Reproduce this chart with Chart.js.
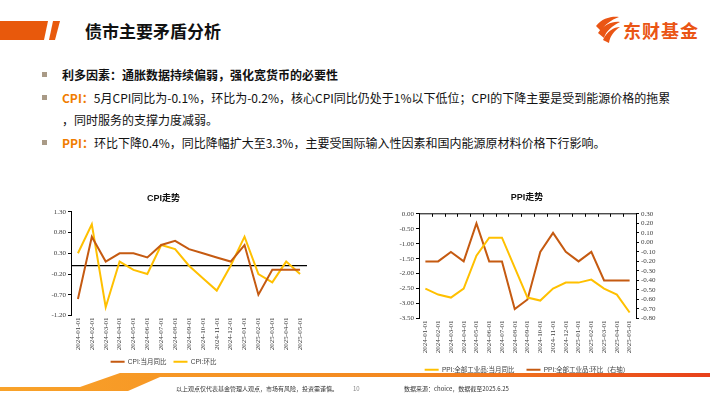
<!DOCTYPE html>
<html>
<head>
<meta charset="utf-8">
<script src="https://cdn.jsdelivr.net/npm/chart.js@4.4.1/dist/chart.umd.min.js"></script>
<style>
  body { margin: 0; width: 710px; height: 395px; position: relative; overflow: hidden; background: #fff;
         font-family: "Noto Sans CJK SC", "Liberation Sans", sans-serif; color: #111; }
  .abs { position: absolute; }
  .line { position: absolute; left: 62px; font-size: 12px; line-height: 16px; white-space: nowrap; }
  .sq { position: absolute; left: 42px; width: 5px; height: 5px; background: #a99a86; }
  .hl { color: #f07c00; font-weight: bold; }
  canvas { position: absolute; }
</style>
</head>
<body>
<svg class="abs" style="left:0;top:0" width="710" height="395">
  <defs>
    <linearGradient id="band" x1="0" x2="1" y1="0" y2="0">
      <stop offset="0" stop-color="#f9a32a"/>
      <stop offset="0.6" stop-color="#f3861f"/>
      <stop offset="1" stop-color="#e8401a"/>
    </linearGradient>
  </defs>
  <polygon points="0,21 48,21 44,40 0,40" fill="#e8590c"/>
  <polygon points="53,21 60,21 55,40 49,40" fill="#e8590c"/>
  <g fill="#ea5514">
    <path d="M596,26 C602,18 612,16 619,17 C611,20 604,25 601,31 Z"/>
    <path d="M598,33 C604,24 613,21 620,22 C612,26 606,31 604,38 Z"/>
    <path d="M603,40 C607,31 614,27 620,27 C614,31 610,36 609,43 Z"/>
  </g>
  <polygon points="0,387 80,387 120,373 710,373 710,377 160,377 128,391 0,391" fill="url(#band)"/>
</svg>

<div class="abs" style="left:85px;top:19px;font-size:17px;font-weight:bold;line-height:24px;color:#111">债市主要矛盾分析</div>
<div class="abs" style="left:623px;top:18px;font-size:18px;font-weight:bold;line-height:24px;color:#ea5514;letter-spacing:1px">东财基金</div>

<div class="sq" style="top:72px"></div>
<div class="line" style="top:67px;font-weight:bold">利多因素：通胀数据持续偏弱，强化宽货币的必要性</div>
<div class="sq" style="top:95px"></div>
<div class="line" style="top:90px"><span class="hl">CPI：</span>5月CPI同比为-0.1%，环比为-0.2%，核心CPI同比仍处于1%以下低位；CPI的下降主要是受到能源价格的拖累</div>
<div class="line" style="top:112px">，同时服务的支撑力度减弱。</div>
<div class="sq" style="top:140px"></div>
<div class="line" style="top:135px"><span class="hl">PPI：</span>环比下降0.4%，同比降幅扩大至3.3%，主要受国际输入性因素和国内能源原材料价格下行影响。</div>

<canvas id="cpi" width="323" height="200" style="left:20px;top:185px"></canvas>
<canvas id="ppi" width="320" height="200" style="left:367px;top:185px"></canvas>

<div class="abs" style="left:176px;top:385px;font-size:6px;line-height:8px;color:#333">以上观点仅代表基金管理人观点，市场有风险，投资需谨慎。</div>
<div class="abs" style="left:353px;top:385px;font-size:6px;line-height:8px;color:#888">10</div>
<div class="abs" style="left:404px;top:385px;font-size:6px;line-height:8px;color:#333">数据来源：choice，数据截至2025.6.25</div>

<script>
const months = ["2024-01-01", "2024-02-01", "2024-03-01", "2024-04-01", "2024-05-01", "2024-06-01",
  "2024-07-01", "2024-08-01", "2024-09-01", "2024-10-01", "2024-11-01", "2024-12-01",
  "2025-01-01", "2025-02-01", "2025-03-01", "2025-04-01", "2025-05-01"];

const cpiYoy = [-0.8, 0.7, 0.1, 0.3, 0.3, 0.2, 0.5, 0.6, 0.4, 0.3, 0.2, 0.1, 0.5, -0.7, -0.1, -0.1, -0.1];
const cpiMom = [0.3, 1.0, -1.0, 0.1, -0.1, -0.2, 0.5, 0.4, 0.0, -0.3, -0.6, 0.0, 0.7, -0.2, -0.4, 0.1, -0.2];
const ppiYoy = [-2.5, -2.7, -2.8, -2.5, -1.4, -0.8, -0.8, -1.8, -2.8, -2.9, -2.5, -2.3, -2.3, -2.2, -2.5, -2.7, -3.3];
const ppiMom = [-0.2, -0.2, -0.1, -0.2, 0.2, -0.2, -0.2, -0.7, -0.6, -0.1, 0.1, -0.1, -0.2, -0.1, -0.4, -0.4, -0.4];

const cpiRange = [-1.2, 1.3, 0.5];
const ppiRange = [-3.5, 0, 0.5];
const ppiMomRange = [-0.8, 0.3, 0.1];

const brown = "#c55a11";
const yellow = "#ffc000";
const tickFont = { family: "'Liberation Serif', serif", size: 7 };
const legendFont = { family: "'Liberation Sans', 'Noto Sans CJK SC', sans-serif", size: 6.5 };
const titleFont = { family: "'Liberation Sans', 'Noto Sans CJK SC', sans-serif", size: 9, weight: "bold" };

// black line at value 0 (the category axis crossing)
const zeroLine = {
    id: "zeroLine",
    beforeDatasetsDraw(chart, args, opts) {
        const { ctx, chartArea } = chart;
        const y = chart.scales.y.getPixelForValue(0);
        ctx.save();
        ctx.strokeStyle = "#000";
        ctx.lineWidth = opts.width || 1;
        ctx.beginPath();
        ctx.moveTo(chartArea.left, y);
        ctx.lineTo(chartArea.right, y);
        if (opts.ticks) {
            const n = chart.data.labels.length;
            const step = (chartArea.right - chartArea.left) / n;
            for (let i = 0; i <= n; i++) {
                const x = Math.round(chartArea.left + i * step) + 0.5;
                ctx.moveTo(x, y);
                ctx.lineTo(x, y + 3);
            }
        }
        ctx.stroke();
        ctx.restore();
    },
};

function yAxis(range, pos, width) {
    return {
        position: pos,
        min: range[0],
        max: range[1],
        afterFit: (s) => { s.width = width; },
        ticks: { stepSize: range[2], autoSkip: false, font: tickFont, color: "#404040", padding: 2,
                 callback: (v) => Number(v).toFixed(2) },
        grid: { drawOnChartArea: false, tickLength: 3, tickColor: "#000" },
        border: { display: true, color: "#000", width: 1 },
    };
}

function xAxis(height) {
    return {
        offset: true,
        afterFit: (s) => { s.height = height; },
        ticks: { font: tickFont, color: "#404040", minRotation: 90, maxRotation: 90, autoSkip: false, padding: 2 },
        grid: { display: false, drawTicks: false },
        border: { display: false },
    };
}

function lineSet(label, data, color, axis) {
    return {
        label: label,
        data: data,
        borderColor: color,
        backgroundColor: color,
        borderWidth: 2,
        pointRadius: 0,
        tension: 0,
        yAxisID: axis || "y",
    };
}

function legendOpts(pad) {
    return {
        position: "bottom",
        labels: { font: legendFont, color: "#404040", usePointStyle: true, pointStyle: "line",
                  pointStyleWidth: 14, padding: pad },
    };
}

new Chart(document.getElementById("cpi"), {
    type: "line",
    data: {
        labels: months,
        datasets: [
            lineSet("CPI:当月同比", cpiYoy, brown),
            lineSet("CPI:环比", cpiMom, yellow),
        ],
    },
    options: {
        responsive: false,
        animation: false,
        devicePixelRatio: 1,
        layout: { padding: { left: 0, right: 36, top: 0, bottom: 10 } },
        plugins: {
            title: { display: true, text: "CPI走势", font: titleFont, color: "#111", padding: { top: 8, bottom: 8 } },
            legend: legendOpts(7),
            tooltip: { enabled: false },
            zeroLine: { width: 1.3 },
        },
        scales: {
            x: xAxis(36),
            y: yAxis(cpiRange, "left", 51),
        },
    },
    plugins: [zeroLine],
});

new Chart(document.getElementById("ppi"), {
    type: "line",
    data: {
        labels: months,
        datasets: [
            lineSet("PPI:全部工业品:当月同比", ppiYoy, yellow),
            lineSet("PPI:全部工业品:环比（右轴）", ppiMom, brown, "y1"),
        ],
    },
    options: {
        responsive: false,
        animation: false,
        devicePixelRatio: 1,
        layout: { padding: { left: 0, right: 0, top: 0, bottom: 2 } },
        plugins: {
            title: { display: true, text: "PPI走势", font: titleFont, color: "#111", padding: { top: 7, bottom: 11 } },
            legend: legendOpts(12),
            tooltip: { enabled: false },
            zeroLine: { width: 1, ticks: true },
        },
        scales: {
            x: xAxis(36),
            y: yAxis(ppiRange, "left", 52),
            y1: yAxis(ppiMomRange, "right", 51),
        },
    },
    plugins: [zeroLine],
});
</script>
</body>
</html>
